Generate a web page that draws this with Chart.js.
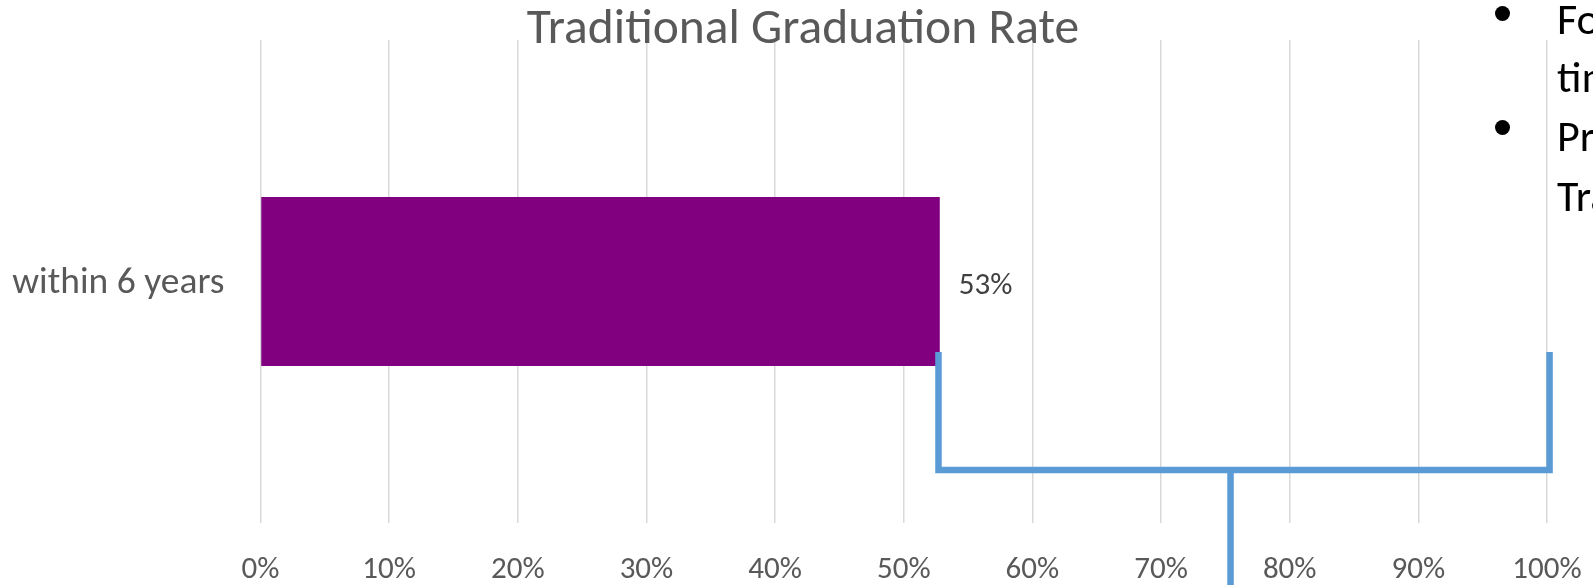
<!DOCTYPE html>
<html>
<head>
<meta charset="utf-8">
<script src="https://cdn.jsdelivr.net/npm/chart.js@4/dist/chart.umd.min.js"></script>
<style>
  html, body { margin: 0; padding: 0; background: #fff; overflow: hidden; }
  #wrap { position: relative; width: 1593px; height: 585px; overflow: hidden; }
  #c { position: absolute; left: 0; top: 0; }
  .txt { position: absolute; white-space: nowrap; font-family: Carlito, Calibri, sans-serif; line-height: 1; }
  .dot { position: absolute; width: 15px; height: 15px; border-radius: 50%; background: #000; }
</style>
</head>
<body>
<div id="wrap">
  <canvas id="c" width="1593" height="585"></canvas>
  <div class="txt" style="left:13px;width:1580px;top:2px;text-align:center;font-size:49.5px;color:#595959;">Traditional Graduation Rate</div>
  <div class="dot" style="left:1495px;top:6px;"></div>
  <div class="dot" style="left:1495px;top:120px;"></div>
  <div class="txt" style="left:1557px;top:-3px;font-size:44px;color:#000;">For first-time, full-</div>
  <div class="txt" style="left:1557px;top:55px;font-size:44px;color:#000;">time students</div>
  <div class="txt" style="left:1557px;top:114px;font-size:44px;color:#000;">Previously called</div>
  <div class="txt" style="left:1557px;top:174px;font-size:44px;color:#000;">Traditional rate</div>
</div>
<script>
const categories = ['within 6 years'];
const gradRates = [52.8];
const dataLabels = ['53%'];
const tickValues = [0, 10, 20, 30, 40, 50, 60, 70, 80, 90, 100];
const tickLabels = ['0%', '10%', '20%', '30%', '40%', '50%', '60%', '70%', '80%', '90%', '100%'];
// bracket annotation, in x-axis units (%)
const bracketLeft = 52.7;
const bracketRight = 100.2;
const bracketStem = 75.4;

const FONT = 'Carlito, Calibri, sans-serif';

function zeroPad(scale) {
  scale.paddingTop = 0; scale.paddingBottom = 0;
  scale.paddingLeft = 0; scale.paddingRight = 0;
}

const bracketPlugin = {
  id: 'bracket',
  afterDatasetsDraw(chart) {
    const x = chart.scales.x, ctx = chart.ctx;
    const xl = x.getPixelForValue(bracketLeft);
    const xr = x.getPixelForValue(bracketRight);
    const xs = x.getPixelForValue(bracketStem);
    ctx.save();
    ctx.strokeStyle = '#5B9BD5';
    ctx.lineWidth = 6.5;
    ctx.lineJoin = 'miter';
    ctx.lineCap = 'butt';
    ctx.beginPath();
    ctx.moveTo(xl, 352); ctx.lineTo(xl, 470); ctx.lineTo(xr, 470); ctx.lineTo(xr, 352);
    ctx.moveTo(xs, 470); ctx.lineTo(xs, 590);
    ctx.stroke();
    ctx.restore();
  }
};

const labelPlugin = {
  id: 'barLabels',
  afterDatasetsDraw(chart) {
    const ctx = chart.ctx;
    const meta = chart.getDatasetMeta(0);
    ctx.save();
    ctx.font = '31px ' + FONT;
    ctx.fillStyle = '#404040';
    ctx.textBaseline = 'middle';
    ctx.textAlign = 'left';
    meta.data.forEach((bar, i) => {
      ctx.fillText(dataLabels[i], bar.x + 19, chart.scales.y.getPixelForValue(i) + 4.5);
    });
    ctx.restore();
  }
};

new Chart(document.getElementById('c'), {
  type: 'bar',
  data: {
    labels: categories,
    datasets: [{
      data: gradRates,
      backgroundColor: '#800080',
      borderWidth: 0,
      categoryPercentage: 1,
      barPercentage: 0.35
    }]
  },
  options: {
    indexAxis: 'y',
    responsive: false,
    animation: false,
    layout: { padding: { top: 40, right: 46, left: 0, bottom: 0 } },
    plugins: { legend: { display: false }, tooltip: { enabled: false }, title: { display: false } },
    scales: {
      x: {
        min: 0, max: 100,
        afterBuildTicks(scale) { scale.ticks = tickValues.map(v => ({ value: v })); },
        afterFit(scale) { scale.height = 62; zeroPad(scale); },
        ticks: {
          callback: (v, i) => tickLabels[i],
          font: { family: FONT, size: 31 },
          color: '#595959',
          padding: 29,
          maxRotation: 0,
          autoSkip: false
        },
        grid: { color: '#D9D9D9', lineWidth: 1.5, drawTicks: false },
        border: { display: false }
      },
      y: {
        afterFit(scale) { scale.width = 260.5; zeroPad(scale); },
        ticks: {
          font: { family: FONT, size: 37.5 },
          color: '#595959',
          padding: 28,
          labelOffset: 2
        },
        grid: { display: false },
        border: { display: false }
      }
    }
  },
  plugins: [labelPlugin, bracketPlugin]
});
</script>
</body>
</html>
